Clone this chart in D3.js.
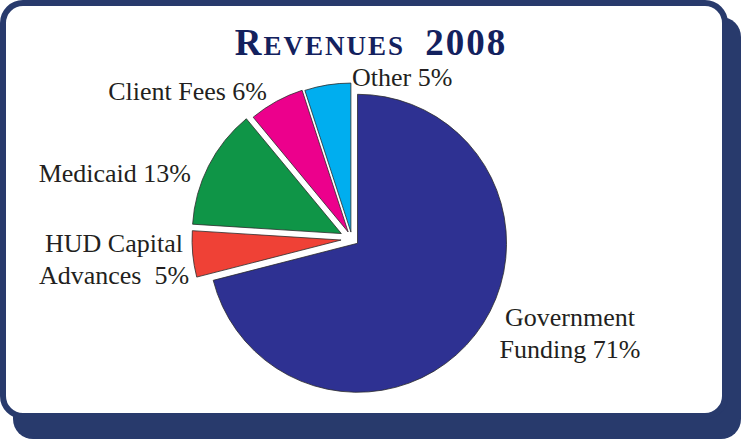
<!DOCTYPE html>
<html>
<head>
<meta charset="utf-8">
<script src="https://cdn.jsdelivr.net/npm/d3@7"></script>
<style>
  html, body { margin: 0; padding: 0; background: #fff; }
  svg { display: block; }
  text { font-family: "Liberation Serif", "Times New Roman", serif; }
</style>
</head>
<body>
<div class="chart"></div>
<script>
// revenue shares, clockwise from 12 o'clock
const categories = ['Government Funding', 'HUD Capital Advances', 'Medicaid', 'Client Fees', 'Other'];
const values = [71, 5, 13, 6, 5];
const labelLines = [
    ['Government', 'Funding 71%'],
    ['HUD Capital', 'Advances  5%'],
    ['Medicaid 13%'],
    ['Client Fees 6%'],
    ['Other 5%']
];

const colors = ['#2e3192', '#ef4136', '#0f9547', '#ec008c', '#00aeef'];
const explode = [7, 11, 12, 8, 7];
// label anchor points, text-anchor
const labelLayout = [
    { x: 570, y: 326, anchor: 'middle' },
    { x: 114, y: 252, anchor: 'middle' },
    { x: 191, y: 182, anchor: 'end' },
    { x: 267, y: 100, anchor: 'end' },
    { x: 352, y: 86, anchor: 'start' }
];

const w = 741, h = 439;
const cx = 352, cy = 239, radius = 149;

const svg = d3.select('.chart').append('svg')
    .attr('width', w)
    .attr('height', h);

// frame + drop shadow
svg.append('rect')
    .attr('x', 13).attr('y', 17)
    .attr('width', 728).attr('height', 422)
    .attr('rx', 20)
    .attr('fill', '#283a6c');

svg.append('rect')
    .attr('x', 3).attr('y', 3)
    .attr('width', 722).attr('height', 413)
    .attr('rx', 20)
    .attr('fill', '#fff')
    .attr('stroke', '#283a6c')
    .attr('stroke-width', 6);

// title in small caps
const title = svg.append('text')
    .attr('x', 371)
    .attr('y', 55)
    .attr('text-anchor', 'middle')
    .attr('fill', '#13215e')
    .attr('font-weight', 'bold')
    .attr('letter-spacing', 2)
    .style('white-space', 'pre');
title.append('tspan').attr('font-size', 37).text('R');
title.append('tspan').attr('font-size', 27).text('EVENUES ');
title.append('tspan').attr('font-size', 37).text(' 2008');

const pie = d3.pie().sort(null).value(d => d)(values);
const arc = d3.arc().innerRadius(0).outerRadius(radius);

const g = svg.append('g').attr('transform', `translate(${cx},${cy})`);

g.selectAll('path')
    .data(pie)
    .join('path')
        .attr('transform', (d, i) => {
            const a = (d.startAngle + d.endAngle) / 2;
            return `translate(${Math.sin(a) * explode[i]},${-Math.cos(a) * explode[i]})`;
        })
        .attr('d', arc)
        .attr('fill', (d, i) => colors[i])
        .attr('stroke', '#2b2b2b')
        .attr('stroke-width', 0.8)
        .attr('stroke-linejoin', 'round')
    .append('title')
        .text((d, i) => `${categories[i]} ${values[i]}%`);

// labels
svg.append('g')
    .selectAll('text')
    .data(labelLines)
    .join('text')
        .attr('x', (d, i) => labelLayout[i].x)
        .attr('y', (d, i) => labelLayout[i].y)
        .attr('text-anchor', (d, i) => labelLayout[i].anchor)
        .attr('font-size', 26)
        .attr('fill', '#231f20')
        .style('white-space', 'pre')
        .selectAll('tspan')
        .data((d, i) => d.map(t => ({ t, x: labelLayout[i].x })))
        .join('tspan')
            .attr('x', d => d.x)
            .attr('dy', (d, j) => j === 0 ? 0 : 32)
            .text(d => d.t);
</script>
</body>
</html>
